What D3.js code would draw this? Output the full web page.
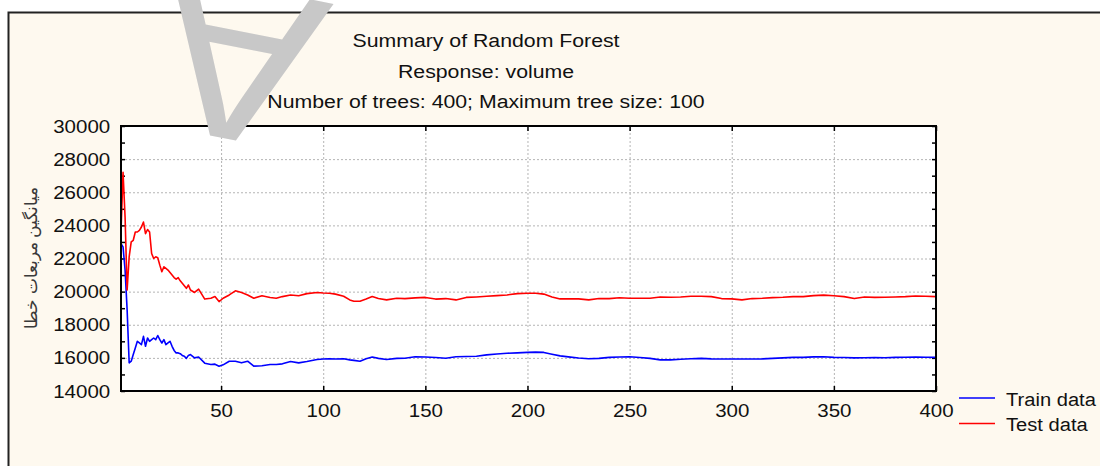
<!DOCTYPE html>
<html>
<head>
<meta charset="utf-8">
<script src="https://cdn.jsdelivr.net/npm/d3@7"></script>
<style>
  body { margin: 0; background: #fff; }
  svg { display: block; }
  text { font-family: "Liberation Sans", Arial, sans-serif; fill: #111; }
</style>
</head>
<body>
<div id="chart"></div>
<script>
// iterations (number of trees) where the curves were read
const iters = [1,2,3,4,5,6,7,8,9,10,11,12,13,14,15,16,17,18,19,20,21,22,23,24,25,26,27,28,29,30,31,32,33,34,35,37,39,42,45,47,49,51,54,57,60,63,66,70,74,77,80,84,88,92,97,100,103,106,110,113,115,118,121,124,127,131,136,140,145,150,155,160,165,170,175,180,185,190,195,200,204,208,212,216,220,225,230,235,240,245,250,255,260,265,270,275,280,285,290,295,300,305,310,315,320,325,330,335,340,345,350,355,360,365,370,375,380,385,390,395,400];

const trainMSE = [22900,22700,21300,18900,15700,15800,16200,16600,17000,16900,16800,17300,16700,17200,17000,17100,17200,17100,17350,17100,16900,17100,16800,16900,17000,16700,16450,16300,16300,16250,16150,16100,15970,16150,16200,16000,16050,15680,15600,15620,15500,15580,15800,15800,15700,15800,15500,15520,15600,15600,15640,15780,15700,15780,15900,15930,15950,15930,15950,15880,15850,15800,15950,16050,15970,15900,15970,15980,16070,16050,16020,15980,16070,16080,16100,16180,16230,16280,16300,16330,16350,16330,16220,16120,16060,15990,15950,15970,16030,16050,16070,16020,15970,15880,15880,15920,15950,15970,15940,15930,15930,15930,15930,15940,15970,16000,16030,16030,16060,16070,16030,16020,16000,16010,16020,16010,16030,16040,16050,16040,16030];

const testMSE = [23600,27200,24500,20100,22100,23000,23100,23600,23600,23700,23900,24200,23500,23750,23600,22300,22000,22100,22050,21600,21200,21500,21400,21300,21150,21000,20850,20750,20850,20650,20500,20350,20200,20400,20100,19950,20150,19550,19600,19700,19400,19600,19800,20050,19950,19800,19600,19750,19650,19600,19700,19800,19750,19880,19950,19920,19900,19850,19720,19500,19420,19420,19550,19700,19580,19500,19600,19580,19620,19650,19550,19580,19500,19650,19680,19720,19760,19800,19880,19900,19900,19850,19680,19560,19560,19560,19500,19580,19580,19630,19600,19600,19600,19680,19660,19680,19720,19720,19700,19580,19560,19500,19580,19600,19640,19660,19700,19700,19760,19790,19750,19700,19580,19680,19650,19660,19680,19700,19740,19720,19700];

const xTicks = [50,100,150,200,250,300,350,400];
const yTicks = [14000,16000,18000,20000,22000,24000,26000,28000,30000];
const yMinor = d3.range(14000, 30001, 1000);
const titleLines = ["Summary of Random Forest", "Response: volume", "Number of trees: 400; Maximum tree size: 100"];
const seriesNames = ["Train data", "Test data"];
const seriesColors = ["#0000ff", "#ff0000"];
const yLabel = "میانگین مربعات خطا";

const W = 1100, H = 466;
const svg = d3.select("#chart").append("svg")
  .attr("width", W)
  .attr("height", H);

// outer panel
svg.append("rect")
  .attr("x", 8.5).attr("y", 12.5)
  .attr("width", W).attr("height", H)
  .attr("fill", "#fef9ef")
  .attr("stroke", "#222").attr("stroke-width", 2);

const pL = 121, pR = 936, pT = 126, pB = 391;
const x = d3.scaleLinear().domain([1, 400]).range([pL, pR]);
const y = d3.scaleLinear().domain([14000, 30000]).range([pB, pT]);

svg.append("rect")
  .attr("x", pL).attr("y", pT)
  .attr("width", pR - pL).attr("height", pB - pT)
  .attr("fill", "#fff");

// dashed grid
svg.append("g")
  .attr("transform", `translate(0,${pB})`)
  .call(d3.axisBottom(x).tickValues(xTicks).tickSize(-(pB - pT)).tickFormat(""))
  .call(g => g.select(".domain").remove())
  .selectAll("line").attr("stroke", "#b4b4b4").attr("stroke-dasharray", "2,2");
svg.append("g")
  .attr("transform", `translate(${pL},0)`)
  .call(d3.axisLeft(y).tickValues(yTicks).tickSize(-(pR - pL)).tickFormat(""))
  .call(g => g.select(".domain").remove())
  .selectAll("line").attr("stroke", "#b4b4b4").attr("stroke-dasharray", "2,2");

// inward ticks on all four sides
const tickGroups = [];
tickGroups.push(svg.append("g").attr("transform", `translate(${pL},0)`)
  .call(d3.axisRight(y).tickValues(yMinor).tickSize(4).tickFormat("")));
tickGroups.push(svg.append("g").attr("transform", `translate(${pR},0)`)
  .call(d3.axisLeft(y).tickValues(yMinor).tickSize(4).tickFormat("")));
tickGroups.push(svg.append("g").attr("transform", `translate(0,${pB})`)
  .call(d3.axisTop(x).tickValues(xTicks).tickSize(5).tickFormat("")));
tickGroups.push(svg.append("g").attr("transform", `translate(0,${pT})`)
  .call(d3.axisBottom(x).tickValues(xTicks).tickSize(5).tickFormat("")));
tickGroups.forEach(g => {
  g.select(".domain").remove();
  g.selectAll("line").attr("stroke", "#000").attr("stroke-width", 1.5);
});

// tick labels (the original glyphs are a little wider than Arial)
const yAx = svg.append("g").attr("transform", `translate(${pL},0)`)
  .call(d3.axisLeft(y).tickValues(yTicks).tickSize(0).tickPadding(10).tickFormat(d3.format("d")));
yAx.select(".domain").remove();
yAx.selectAll("text")
  .attr("font-size", 19)
  .attr("font-family", "Liberation Sans, Arial, sans-serif")
  .attr("fill", "#111")
  .attr("transform", "scale(1.08,1)");

const xAx = svg.append("g").attr("transform", `translate(0,${pB})`)
  .call(d3.axisBottom(x).tickValues(xTicks).tickSize(0).tickPadding(13));
xAx.select(".domain").remove();
xAx.selectAll("text")
  .attr("font-size", 19)
  .attr("font-family", "Liberation Sans, Arial, sans-serif")
  .attr("fill", "#111")
  .attr("transform", "scale(1.08,1)");

// series
const line = d3.line().x(d => x(d[0])).y(d => y(d[1]));
[trainMSE, testMSE].forEach((vals, k) => {
  svg.append("path")
    .datum(iters.map((it, i) => [it, vals[i]]))
    .attr("fill", "none")
    .attr("stroke", seriesColors[k])
    .attr("stroke-width", 1.6)
    .attr("stroke-linejoin", "round")
    .attr("d", line);
});

// plot frame
svg.append("rect")
  .attr("x", pL).attr("y", pT)
  .attr("width", pR - pL).attr("height", pB - pT)
  .attr("fill", "none").attr("stroke", "#000").attr("stroke-width", 2);

// titles
svg.selectAll("text.title").data(titleLines).enter().append("text")
  .attr("class", "title")
  .attr("transform", (d, i) => `translate(486,${47 + i * 30.5}) scale(1.12,1)`)
  .attr("text-anchor", "middle")
  .attr("font-size", 19)
  .text(d => d);

// y axis label
svg.append("text")
  .attr("transform", "translate(37,258) rotate(-90)")
  .attr("text-anchor", "middle")
  .attr("font-size", 17)
  .attr("font-family", "DejaVu Sans, Noto Sans, sans-serif")
  .style("fill", "#3a3a3a")
  .text(yLabel);

// legend
const leg = svg.append("g");
seriesNames.forEach((name, k) => {
  const ly = 398 + k * 25.5;
  leg.append("line")
    .attr("x1", 959).attr("x2", 995).attr("y1", ly).attr("y2", ly)
    .attr("stroke", seriesColors[k]).attr("stroke-width", 1.6);
  leg.append("text")
    .attr("transform", `translate(1006,${ly + 7.5}) scale(1.06,1)`)
    .attr("font-size", 19)
    .text(name);
});

// watermark (upside-down serif letter over the page)
svg.append("text")
  .attr("transform", "translate(334,4) rotate(191) scale(1.12,1)")
  .attr("font-family", "Liberation Serif, serif")
  .attr("font-size", 222)
  .style("fill", "#c8c8c8")
  .text("A");
</script>
</body>
</html>
